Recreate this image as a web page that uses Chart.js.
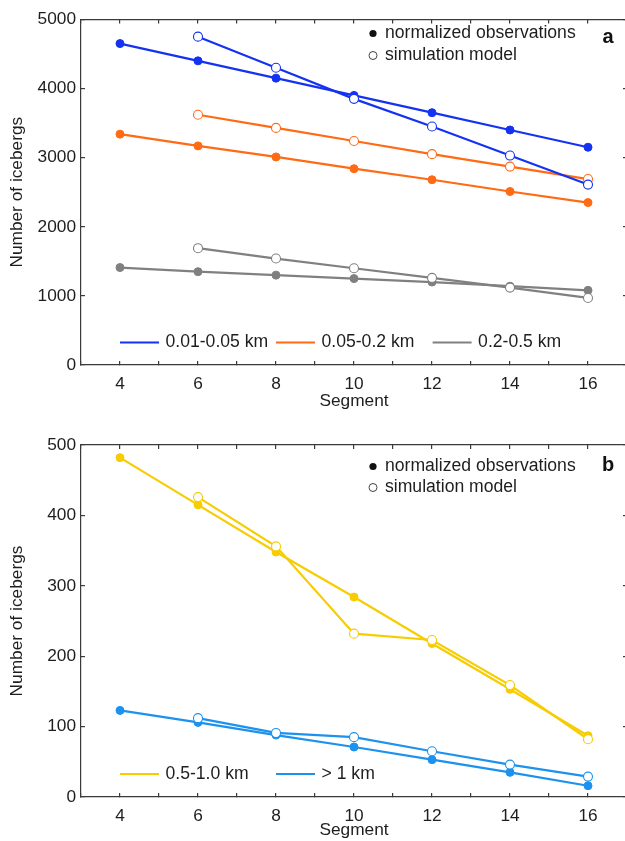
<!DOCTYPE html>
<html>
<head>
<meta charset="utf-8">
<script src="https://cdn.jsdelivr.net/npm/chart.js@4.4.1/dist/chart.umd.min.js"></script>
<style>
  html, body { margin: 0; padding: 0; background: #fff; overflow: hidden; width: 625px; height: 841px; }
  canvas { position: absolute; left: 0; }
  #c1 { top: 0; }
  #c2 { top: 425px; }
</style>
</head>
<body>
<canvas id="c1" width="640" height="420"></canvas>
<canvas id="c2" width="640" height="416"></canvas>
<script>
// ---- data ----
const segments = [4, 6, 8, 10, 12, 14, 16];

// panel a
const obsSmall = [4650, 4400, 4150, 3900, 3650, 3400, 3150];      // 0.01-0.05 km
const simSmall = [null, 4750, 4300, 3850, 3450, 3030, 2610];
const obsMedium = [3340, 3170, 3010, 2840, 2680, 2510, 2350];     // 0.05-0.2 km
const simMedium = [null, 3620, 3430, 3240, 3050, 2870, 2690];
const obsLarge = [1410, 1350, 1300, 1250, 1200, 1140, 1080];      // 0.2-0.5 km
const simLarge = [null, 1690, 1540, 1400, 1260, 1120, 970];

// panel b
const obsXL = [482, 415, 348, 284, 218, 153, 87];                 // 0.5-1.0 km
const simXL = [null, 426, 356, 232, 223, 159, 82];
const obsXXL = [123, 106, 88, 71, 53, 35, 16];                    // > 1 km
const simXXL = [null, 112, 91, 85, 65, 46, 29];

const seriesLabelsA = ['0.01-0.05 km', '0.05-0.2 km', '0.2-0.5 km'];
const seriesLabelsB = ['0.5-1.0 km', '> 1 km'];
const markerLabels = ['normalized observations', 'simulation model'];
const yTicksA = [0, 1000, 2000, 3000, 4000, 5000];
const yTicksB = [0, 100, 200, 300, 400, 500];

// ---- styling ----
const FONT = '"Liberation Sans", Arial, Helvetica, sans-serif';
const AXIS = '#3a3a3a';
const TXT = '#1e1e1e';
const colA = ['#1432f2', '#ff6a14', '#808080'];
const colB = ['#f7cc00', '#1c92ee'];

function pts(vals) {
  return segments.map((s, i) => ({ x: s, y: vals[i] }));
}
function obsDs(label, vals, color) {
  return { label, data: pts(vals), borderColor: color, backgroundColor: color,
    borderWidth: 2.2, pointRadius: 4, pointHoverRadius: 4, pointBorderWidth: 1,
    pointBackgroundColor: color, pointBorderColor: color, tension: 0 };
}
function simDs(label, vals, color) {
  return { label, data: pts(vals), borderColor: color, backgroundColor: '#fff',
    borderWidth: 2.2, pointRadius: 4.5, pointHoverRadius: 4.5, pointBorderWidth: 1.1,
    pointBackgroundColor: '#fff', pointBorderColor: color, tension: 0 };
}

const legendPlugin = {
  id: 'panelLegend',
  afterDraw(chart, args, o) {
    const ctx = chart.ctx;
    ctx.save();
    ctx.textBaseline = 'middle';
    ctx.textAlign = 'left';
    ctx.font = '17.6px ' + FONT;
    ctx.fillStyle = TXT;
    // marker legend
    ctx.beginPath();
    ctx.arc(o.mx, o.my1, 3.6, 0, Math.PI * 2);
    ctx.fillStyle = '#111';
    ctx.fill();
    ctx.beginPath();
    ctx.arc(o.mx, o.my2, 4, 0, Math.PI * 2);
    ctx.fillStyle = '#fff';
    ctx.fill();
    ctx.lineWidth = 1;
    ctx.strokeStyle = '#444';
    ctx.stroke();
    ctx.fillStyle = TXT;
    ctx.fillText(markerLabels[0], o.mx + 12, o.my1);
    ctx.fillText(markerLabels[1], o.mx + 12, o.my2);
    // series legend
    o.items.forEach((it, i) => {
      ctx.beginPath();
      ctx.moveTo(it, o.sy);
      ctx.lineTo(it + 39, o.sy);
      ctx.strokeStyle = o.colors[i];
      ctx.lineWidth = 2.2;
      ctx.stroke();
      ctx.fillStyle = TXT;
      ctx.fillText(o.labels[i], it + 45.5, o.sy);
    });
    // panel letter
    ctx.font = 'bold 20px ' + FONT;
    ctx.fillStyle = '#111';
    ctx.textAlign = 'center';
    ctx.fillText(o.letter, o.lx, o.ly);
    ctx.restore();
  }
};

function makeOptions(yMax, yStep, padTop, padBottom, xHeight, legendOpts) {
  const tickFont = { family: FONT, size: 17.3 };
  return {
    responsive: false,
    animation: false,
    events: [],
    layout: { padding: { left: 0, right: 12, top: padTop, bottom: padBottom } },
    plugins: { legend: { display: false }, tooltip: { enabled: false }, panelLegend: legendOpts },
    scales: {
      x: {
        type: 'linear', position: 'bottom', min: 3, max: 17,
        afterFit: s => { s.height = xHeight; },
        border: { display: true, color: AXIS, width: 1.2 },
        grid: { drawOnChartArea: false, drawTicks: true, tickLength: -4, color: AXIS, lineWidth: 1.2 },
        ticks: { stepSize: 1, autoSkip: false, maxRotation: 0, padding: 13, color: TXT, font: tickFont,
          callback: v => (v % 2 === 0 ? String(v) : '') },
        title: { display: true, text: 'Segment', color: TXT, font: { family: FONT, size: 17.3 }, padding: { top: 0, bottom: 0 } }
      },
      x2: {
        type: 'linear', position: 'top', min: 3, max: 17,
        afterFit: s => { s.height = 0; },
        border: { display: true, color: AXIS, width: 1.2 },
        grid: { drawOnChartArea: false, drawTicks: true, tickLength: -4, color: AXIS, lineWidth: 1.2 },
        ticks: { stepSize: 1, autoSkip: false, display: false }
      },
      y: {
        type: 'linear', position: 'left', min: 0, max: yMax,
        afterFit: s => { s.width = 81; },
        border: { display: true, color: AXIS, width: 1.2 },
        grid: { drawOnChartArea: false, drawTicks: true, tickLength: -4, color: AXIS, lineWidth: 1.2 },
        ticks: { stepSize: yStep, padding: 9, color: TXT, font: tickFont, callback: v => String(v) },
        title: { display: true, text: 'Number of icebergs', color: TXT, font: { family: FONT, size: 17.3 }, padding: { top: 7, bottom: 0 } }
      },
      y2: {
        type: 'linear', position: 'right', min: 0, max: yMax,
        afterFit: s => { s.width = 0; },
        border: { display: true, color: AXIS, width: 1.2 },
        grid: { drawOnChartArea: false, drawTicks: true, tickLength: -4, color: AXIS, lineWidth: 1.2 },
        ticks: { stepSize: yStep, display: false }
      }
    }
  };
}

new Chart(document.getElementById('c1'), {
  type: 'line',
  data: {
    datasets: [
      simDs(seriesLabelsA[0] + ' model', simSmall, colA[0]),
      obsDs(seriesLabelsA[0], obsSmall, colA[0]),
      simDs(seriesLabelsA[1] + ' model', simMedium, colA[1]),
      obsDs(seriesLabelsA[1], obsMedium, colA[1]),
      simDs(seriesLabelsA[2] + ' model', simLarge, colA[2]),
      obsDs(seriesLabelsA[2], obsLarge, colA[2])
    ]
  },
  options: makeOptions(yTicksA[yTicksA.length - 1], yTicksA[1] - yTicksA[0], 14, 8, 47, {
    mx: 373, my1: 33.5, my2: 55.5, sy: 342.5, items: [120, 276, 432.6],
    labels: seriesLabelsA, colors: colA, letter: 'a', lx: 608, ly: 37
  }),
  plugins: [legendPlugin]
});

new Chart(document.getElementById('c2'), {
  type: 'line',
  data: {
    datasets: [
      simDs(seriesLabelsB[0] + ' model', simXL, colB[0]),
      obsDs(seriesLabelsB[0], obsXL, colB[0]),
      simDs(seriesLabelsB[1] + ' model', simXXL, colB[1]),
      obsDs(seriesLabelsB[1], obsXXL, colB[1])
    ]
  },
  options: makeOptions(yTicksB[yTicksB.length - 1], yTicksB[1] - yTicksB[0], 20, 0, 44, {
    mx: 373, my1: 41.5, my2: 62.5, sy: 349, items: [120, 276],
    labels: seriesLabelsB, colors: colB, letter: 'b', lx: 608, ly: 40
  }),
  plugins: [legendPlugin]
});
</script>
</body>
</html>
